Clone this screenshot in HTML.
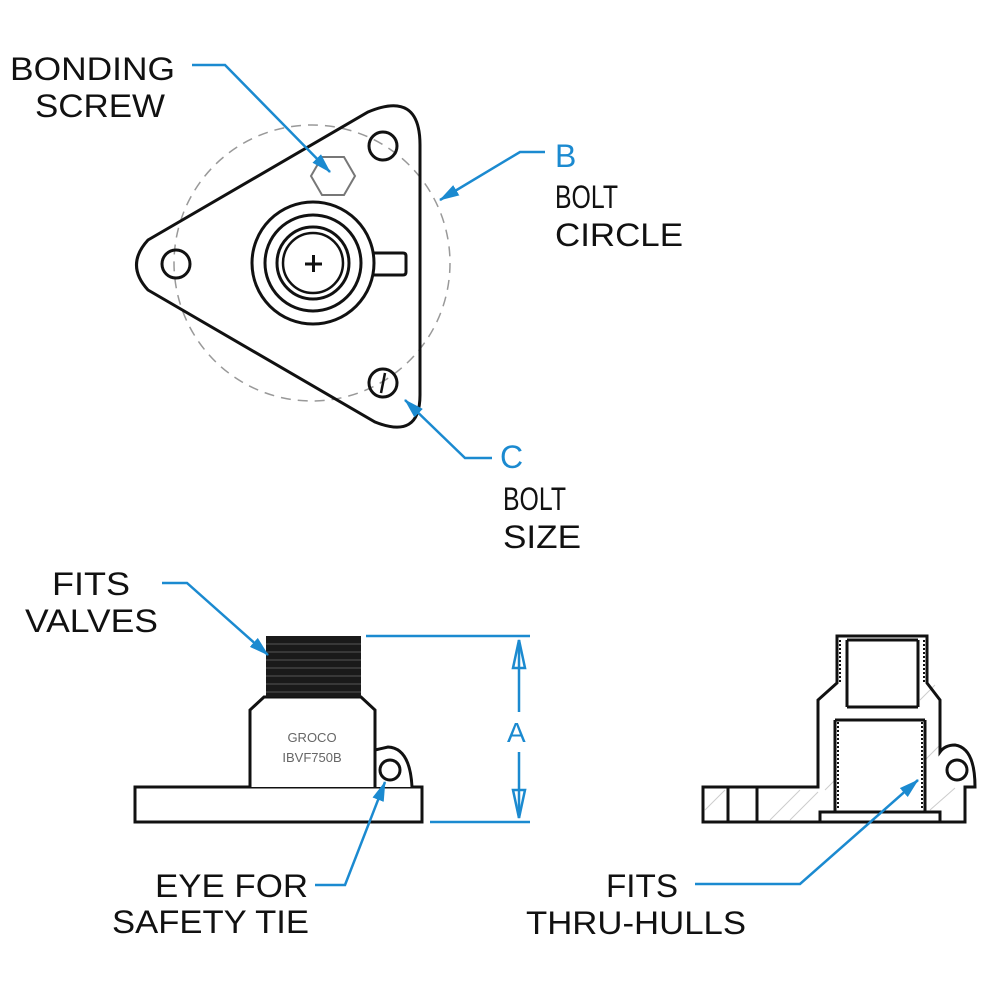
<!DOCTYPE html>
<html><head><meta charset="utf-8"><style>html,body{margin:0;padding:0;background:#fff}svg{display:block}</style></head>
<body>
<svg width="1000" height="1000" viewBox="0 0 1000 1000" xmlns="http://www.w3.org/2000/svg">
<defs>
<marker id="ar" markerWidth="20" markerHeight="12" refX="19" refY="6" orient="auto" markerUnits="userSpaceOnUse"><path d="M0,0 L20,6 L0,12 z" fill="#1b8ad0"/></marker>
</defs>
<g font-family="Liberation Sans, sans-serif" font-size="32" fill="#111">
<text x="10" y="80" textLength="165" lengthAdjust="spacingAndGlyphs">BONDING</text>
<text x="35" y="117" textLength="130" lengthAdjust="spacingAndGlyphs">SCREW</text>
<text x="555" y="208" textLength="63" lengthAdjust="spacingAndGlyphs">BOLT</text>
<text x="555" y="246" textLength="128" lengthAdjust="spacingAndGlyphs">CIRCLE</text>
<text x="503" y="510" textLength="63" lengthAdjust="spacingAndGlyphs">BOLT</text>
<text x="503" y="548" textLength="78" lengthAdjust="spacingAndGlyphs">SIZE</text>
<text x="52" y="595" textLength="78" lengthAdjust="spacingAndGlyphs">FITS</text>
<text x="25" y="632" textLength="133" lengthAdjust="spacingAndGlyphs">VALVES</text>
<text x="155" y="897" textLength="153" lengthAdjust="spacingAndGlyphs">EYE FOR</text>
<text x="112" y="933" textLength="197" lengthAdjust="spacingAndGlyphs">SAFETY TIE</text>
<text x="606" y="897" textLength="72" lengthAdjust="spacingAndGlyphs">FITS</text>
<text x="526" y="934" textLength="220" lengthAdjust="spacingAndGlyphs">THRU-HULLS</text>
</g>
<g font-family="Liberation Sans, sans-serif" font-size="32" fill="#1b8ad0">
<text x="555" y="167">B</text>
<text x="500" y="468">C</text>
<text x="507" y="742" font-size="28">A</text>
</g>
<!-- top view -->
<circle cx="312" cy="263" r="138" fill="none" stroke="#999" stroke-width="1.5" stroke-dasharray="10,7"/>
<path d="M148,240 L368,112 Q420,90 420,145 L420,395 Q420,440 375,422 L148,290 Q125,265 148,240 Z" fill="none" stroke="#111" stroke-width="3"/>
<circle cx="383" cy="146" r="14" fill="none" stroke="#111" stroke-width="3"/>
<circle cx="176" cy="264" r="14" fill="none" stroke="#111" stroke-width="3"/>
<circle cx="383" cy="383" r="14" fill="none" stroke="#111" stroke-width="3"/>
<line x1="385" y1="373" x2="381" y2="393" stroke="#111" stroke-width="2.5"/>
<polygon points="311,176 322,157 344,157 355,176 344,195 322,195" fill="none" stroke="#777" stroke-width="2"/>
<path d="M372,253 L403,253 Q406,253 406,256 L406,272 Q406,275 403,275 L372,275" fill="none" stroke="#111" stroke-width="3"/>
<circle cx="313" cy="263" r="61" fill="#fff" stroke="#111" stroke-width="3"/>
<circle cx="313" cy="263" r="48" fill="none" stroke="#111" stroke-width="3"/>
<circle cx="313" cy="263" r="36" fill="none" stroke="#111" stroke-width="3"/>
<circle cx="313" cy="263" r="30" fill="none" stroke="#111" stroke-width="2.5"/>
<path d="M305,264 H322 M313.5,255 V272" stroke="#111" stroke-width="3"/>
<!-- side view -->
<rect x="135" y="787" width="287" height="35" fill="#fff" stroke="#111" stroke-width="3"/>
<path d="M375,787 L375,750 L388,747 Q410,748 412,787" fill="#fff" stroke="#111" stroke-width="3"/>
<circle cx="390" cy="770" r="10" fill="#fff" stroke="#111" stroke-width="3"/>
<path d="M250,787 V710 L264,697 H361 L375,710 V787" fill="#fff" stroke="#111" stroke-width="3"/>
<rect x="266" y="636" width="95" height="61" fill="#1a1a1a"/>
<g stroke="#555" stroke-width="1">
<line x1="266" y1="644" x2="361" y2="644"/><line x1="266" y1="652" x2="361" y2="652"/><line x1="266" y1="660" x2="361" y2="660"/><line x1="266" y1="668" x2="361" y2="668"/><line x1="266" y1="676" x2="361" y2="676"/><line x1="266" y1="684" x2="361" y2="684"/><line x1="266" y1="692" x2="361" y2="692"/>
</g>
<text x="312" y="742" text-anchor="middle" font-family="Liberation Sans, sans-serif" font-size="13" fill="#666">GROCO</text>
<text x="312" y="762" text-anchor="middle" font-family="Liberation Sans, sans-serif" font-size="13" fill="#666">IBVF750B</text>
<g stroke="#1b8ad0" stroke-width="2.5" fill="none">
<line x1="366" y1="636" x2="530" y2="636"/>
<line x1="430" y1="822" x2="530" y2="822"/>
<line x1="519" y1="640" x2="519" y2="712"/>
<line x1="519" y1="752" x2="519" y2="818"/>
<path d="M519,640 L513,668 H525 Z"/>
<path d="M519,818 L513,790 H525 Z"/>
</g>
<!-- section view -->
<g stroke="#ccc" stroke-width="1">
<line x1="770" y1="820" x2="800" y2="790"/><line x1="790" y1="820" x2="818" y2="792"/><line x1="705" y1="810" x2="725" y2="790"/><line x1="825" y1="790" x2="835" y2="780"/><line x1="930" y1="810" x2="955" y2="788"/><line x1="925" y1="760" x2="940" y2="745"/><line x1="920" y1="700" x2="935" y2="685"/>
</g>
<path d="M837,636 H927 V683 L940,700 V752 Q945,745 955,745 Q975,748 975,787 L965,787 V822 H703 V787 H818 V700 L837,683 Z" fill="none" stroke="#111" stroke-width="3"/>
<line x1="728" y1="787" x2="728" y2="822" stroke="#111" stroke-width="3"/>
<line x1="757" y1="787" x2="757" y2="822" stroke="#111" stroke-width="3"/>
<circle cx="957" cy="770" r="10" fill="#fff" stroke="#111" stroke-width="3"/>
<path d="M847,640 V707 M918,640 V707 M847,640 H918 M847,707 H918 M835,720 H925 M835,720 V812 M925,720 V812" fill="none" stroke="#111" stroke-width="3"/>
<rect x="820" y="812" width="120" height="10" fill="#fff" stroke="#111" stroke-width="3"/>
<g stroke="#111" stroke-width="2" stroke-dasharray="2,2">
<line x1="840" y1="640" x2="840" y2="683"/><line x1="924" y1="640" x2="924" y2="683"/>
<line x1="838" y1="722" x2="838" y2="810"/><line x1="922" y1="722" x2="922" y2="810"/>
</g>
<!-- leaders -->
<g fill="none" stroke="#1b8ad0" stroke-width="2.5">
<path d="M192,65 H225 L330,172" marker-end="url(#ar)"/>
<path d="M545,152 H520 L440,200" marker-end="url(#ar)"/>
<path d="M492,458 H465 L405,400" marker-end="url(#ar)"/>
<path d="M162,583 H187 L268,655" marker-end="url(#ar)"/>
<path d="M315,885 H345 L385,782" marker-end="url(#ar)"/>
<path d="M695,884 H800 L918,780" marker-end="url(#ar)"/>
</g>
</svg>
</body></html>
